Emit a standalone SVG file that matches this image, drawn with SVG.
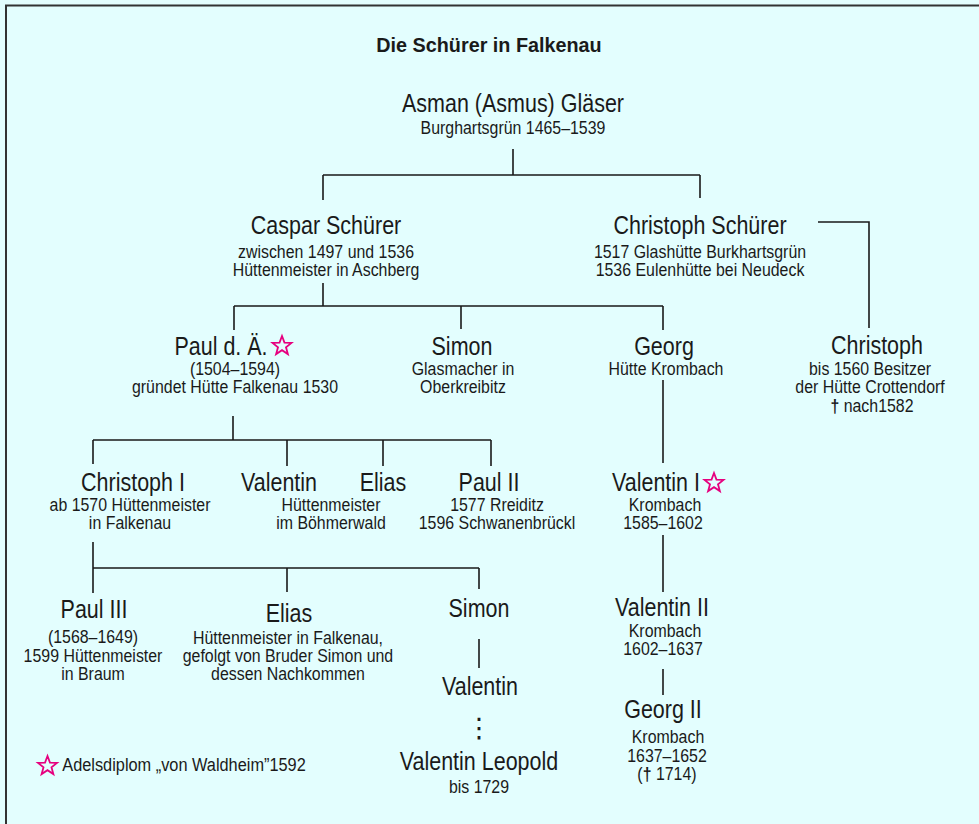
<svg xmlns="http://www.w3.org/2000/svg" width="979" height="824" viewBox="0 0 979 824">
<style>
.bg{fill:#E3FEFE}
.frame{stroke:#333;stroke-width:2;fill:none}
.c{stroke:#1a1a1a;stroke-width:1.6;fill:none}
text{font-family:"Liberation Sans",Arial,sans-serif;fill:#1a1a1a;text-anchor:middle}
.t{font-weight:bold;font-size:19.8px}
.n,.s{transform:scaleX(0.86);transform-box:fill-box;transform-origin:50% 50%}
.n{font-size:25px}
.s{font-size:18.5px}
.lg{font-size:19px}
.star{fill:none;stroke:#E6007E;stroke-width:1.8;stroke-linejoin:miter}
</style>
<defs>
<polygon id="star" points="0,-10 2.469,-3.398 9.511,-3.09 3.994,1.298 5.878,8.09 0,4.2 -5.878,8.09 -3.994,1.298 -9.511,-3.09 -2.469,-3.398"/>
</defs>
<rect class="bg" x="0" y="0" width="979" height="824"/>
<path class="frame" d="M6,824 V5.5 H979"/>
<text class="t" x="489" y="52">Die Schürer in Falkenau</text>
<g id="connectors">
<path class="c" d="M513,149 V175 M323,175 H700 M323,175 V200 M700,175 V198"/>
<path class="c" d="M818,222 H869 V328"/>
<path class="c" d="M323,283 V306 M234,306 H663 M234,306 V330 M461,306 V329 M663,306 V330"/>
<path class="c" d="M663,380 V463"/>
<path class="c" d="M233,416 V440 M93,440 H491 M93,440 V464 M287,440 V466 M383,440 V466 M491,440 V466"/>
<path class="c" d="M93,542 V568 M93,568 H479 M93,568 V593 M287,568 V592 M479,568 V589"/>
<path class="c" d="M479,639 V668"/>
<path class="c" d="M663,535 V592"/>
<path class="c" d="M663,669 V695"/>
</g>
<g id="asman"><text class="n" x="513" y="112">Asman (Asmus) Gläser</text><text class="s" x="513" y="134">Burghartsgrün 1465–1539</text></g>
<g id="caspar"><text class="n" x="326" y="234">Caspar Schürer</text><text class="s" x="326" y="258">zwischen 1497 und 1536</text><text class="s" x="326" y="276">Hüttenmeister in Aschberg</text></g>
<g id="christoph-schuerer"><text class="n" x="700" y="234">Christoph Schürer</text><text class="s" x="700" y="258">1517 Glashütte Burkhartsgrün</text><text class="s" x="700" y="276">1536 Eulenhütte bei Neudeck</text></g>
<g id="christoph"><text class="n" x="877" y="354">Christoph</text><text class="s" x="870" y="375">bis 1560 Besitzer</text><text class="s" x="870" y="393">der Hütte Crottendorf</text><text class="s" x="872" y="412"><tspan font-weight="bold">†</tspan> nach1582</text></g>
<g id="paul-da"><text class="n" x="221" y="355">Paul d. Ä.</text><use href="#star" class="star" x="282" y="346"/><text class="s" x="235" y="375">(1504–1594)</text><text class="s" x="235" y="393">gründet Hütte Falkenau 1530</text></g>
<g id="simon1"><text class="n" x="462" y="355">Simon</text><text class="s" x="463" y="375">Glasmacher in</text><text class="s" x="463" y="393">Oberkreibitz</text></g>
<g id="georg"><text class="n" x="664" y="355">Georg</text><text class="s" x="666" y="375">Hütte Krombach</text></g>
<g id="christoph1"><text class="n" x="133" y="491">Christoph I</text><text class="s" x="130" y="511">ab 1570 Hüttenmeister</text><text class="s" x="130" y="529">in Falkenau</text></g>
<g id="valentin"><text class="n" x="279" y="491">Valentin</text><text class="s" x="331" y="511">Hüttenmeister</text><text class="s" x="331" y="529">im Böhmerwald</text></g>
<g id="elias1"><text class="n" x="383" y="491">Elias</text></g>
<g id="paul2"><text class="n" x="489" y="491">Paul II</text><text class="s" x="497" y="511">1577 Rreiditz</text><text class="s" x="497" y="529">1596 Schwanenbrückl</text></g>
<g id="valentin1"><text class="n" x="656" y="491">Valentin I</text><use href="#star" class="star" x="714" y="483"/><text class="s" x="665" y="511">Krombach</text><text class="s" x="663" y="529">1585–1602</text></g>
<g id="paul3"><text class="n" x="94" y="618">Paul III</text><text class="s" x="93" y="643">(1568–1649)</text><text class="s" x="93" y="662">1599 Hüttenmeister</text><text class="s" x="93" y="680">in Braum</text></g>
<g id="elias2"><text class="n" x="289" y="622">Elias</text><text class="s" x="288" y="644">Hüttenmeister in Falkenau,</text><text class="s" x="288" y="662">gefolgt von Bruder Simon und</text><text class="s" x="288" y="680">dessen Nachkommen</text></g>
<g id="simon2"><text class="n" x="479" y="617">Simon</text></g>
<g id="valentin-s"><text class="n" x="480" y="695">Valentin</text></g>
<g id="dots"><text x="479" y="737" style="font-family:'DejaVu Sans',sans-serif;font-size:27px">⋮</text></g>
<g id="valentin-leopold"><text class="n" x="479" y="770">Valentin Leopold</text><text class="s" x="479" y="793">bis 1729</text></g>
<g id="valentin2"><text class="n" x="662" y="616">Valentin II</text><text class="s" x="665" y="637">Krombach</text><text class="s" x="663" y="655">1602–1637</text></g>
<g id="georg2"><text class="n" x="663" y="718">Georg II</text><text class="s" x="668" y="743">Krombach</text><text class="s" x="667" y="762">1637–1652</text><text class="s" x="667" y="780">(<tspan font-weight="bold">†</tspan> 1714)</text></g>
<g id="legend"><use href="#star" class="star" x="47.5" y="766"/><text class="s lg" x="184" y="771">Adelsdiplom „von Waldheim”1592</text></g>
</svg>
